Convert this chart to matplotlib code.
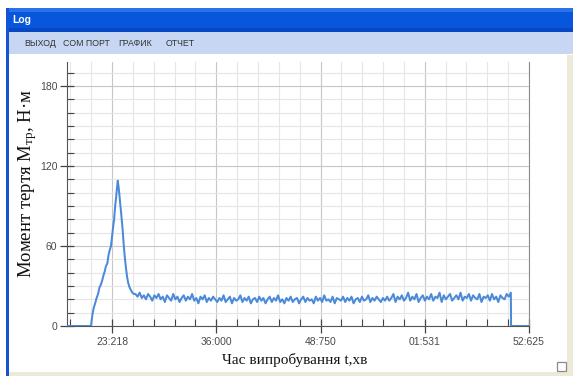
import numpy as np
import matplotlib
matplotlib.use('Agg')
import matplotlib.pyplot as plt
from matplotlib.patches import Rectangle
from matplotlib.ticker import MultipleLocator, FixedLocator

# ---- data ----
x_ticks = [1, 2, 3, 4, 5]
x_tick_labels = ['23:218', '36:000', '48:750', '01:531', '52:625']
y_ticks = [0, 60, 120, 180]

# start-up: idle, ramp to the peak and decay to the steady level
rise_t = [0.568, 0.70, 0.799, 0.806, 0.815, 0.826, 0.838, 0.852, 0.866, 0.880,
          0.893, 0.905, 0.918, 0.930, 0.942, 0.955, 0.966, 0.978, 0.990, 1.000,
          1.010, 1.020, 1.030, 1.040, 1.048, 1.055, 1.062, 1.070, 1.078, 1.086,
          1.094, 1.103, 1.112, 1.122, 1.133, 1.144, 1.156, 1.168, 1.180, 1.195, 1.210]
rise_m = [0, 0, 0, 5, 10, 14, 17, 21, 24, 29,
          31, 34, 38, 41, 45, 47, 53, 57, 60, 67,
          74, 80, 90, 97, 104, 109, 105, 99, 92, 86,
          79, 71, 61, 52, 44, 37, 32, 29, 27, 25, 24]

# steady running level (noisy friction torque)
plateau_m = [24, 22, 25, 21, 23, 20, 24, 22, 19, 23, 21, 24, 20, 22, 18, 23, 21, 19, 24, 20,
             22, 18, 21, 23, 19, 22, 20, 24, 19, 21, 17, 22, 20, 23, 18, 21, 19, 22, 20, 18,
             21, 19, 23, 18, 20, 22, 17, 21, 19, 20, 23, 18, 21, 19, 22, 17, 20, 21, 18, 22,
             19, 21, 17, 20, 22, 18, 21, 19, 23, 18, 20, 17, 21, 19, 22, 18, 20, 21, 17, 20,
             22, 18, 21, 19, 20, 17, 22, 19, 21, 18, 23, 19, 20, 18, 22, 17, 21, 20, 19, 22,
             18, 21, 19, 22, 17, 20, 21, 18, 22, 19, 20, 23, 18, 21, 19, 22, 20, 18, 21, 19,
             22, 19, 21, 24, 18, 22, 20, 23, 19, 21, 25, 19, 22, 20, 24, 18, 21, 23, 19, 22,
             20, 24, 19, 22, 21, 25, 18, 23, 20, 22, 24, 19, 21, 23, 20, 25, 19, 22, 21, 24,
             19, 23, 21, 20, 24, 18, 22, 21, 23, 19, 24, 20, 22, 18, 23, 21, 20, 24, 22, 25]
plateau_start, plateau_end = 1.225, 4.826

# stop: drop to zero and idle till the end
stop_t = [4.828, 5.0]
stop_m = [0, 0]

t = np.concatenate([rise_t, np.linspace(plateau_start, plateau_end, len(plateau_m)), stop_t])
m = np.concatenate([rise_m, plateau_m, stop_m])

# ---- figure / window chrome ----
W, H = 573, 376
fig = plt.figure(figsize=(W / 100, H / 100), dpi=100)
fig.patch.set_facecolor('white')


def px_rect(x0, y0, x1, y1, **kw):
    # rectangle given in screen pixels (origin top-left)
    r = Rectangle((x0 / W, 1 - y1 / H), (x1 - x0) / W, (y1 - y0) / H,
                  transform=fig.transFigure, linewidth=0, **kw)
    fig.add_artist(r)
    return r


px_rect(8, 8, W, 32, facecolor='#0856dc', zorder=0)        # title bar
px_rect(8, 8, W, 12, facecolor='#2a72ea', zorder=0)
px_rect(8, 28, W, 32, facecolor='#0848c4', zorder=0)
px_rect(8, 32, W, 54, facecolor='#c7d7f3', zorder=0)       # menu bar
px_rect(6, 8, 9, H, facecolor='#1454d4', zorder=0)         # left border
px_rect(567, 55, W, H, facecolor='#ece9d8', zorder=0)      # right border
px_rect(9, 372, W, H, facecolor='#ece9d8', zorder=0)       # bottom border
px_rect(557, 362, 566, 371, facecolor='white', edgecolor='#8a8a8a',
        zorder=1).set_linewidth(0.9)

fig.text(12 / W, 1 - 20 / H, 'Log', color='white', fontsize=7.5,
         fontweight='bold', family='Liberation Sans', va='center')
for label, xpos in [('ВЫХОД', 24), ('COM ПОРТ', 63), ('ГРАФИК', 118), ('ОТЧЕТ', 166)]:
    fig.text(xpos / W, 1 - 44 / H, label, color='#333333', fontsize=6.3,
             family='Liberation Sans', va='center')

# ---- plot ----
ax = fig.add_axes([67 / W, 1 - 326 / H, (529 - 67) / W, (326 - 62) / H])
ax.plot(t, m, color='#4b8ad9', linewidth=1.45, zorder=3)

ax.set_xlim(0.568, 5.0)
ax.set_ylim(0, 198)
ax.xaxis.set_major_locator(FixedLocator(x_ticks))
ax.set_xticklabels(x_tick_labels)
ax.xaxis.set_minor_locator(MultipleLocator(0.2))
ax.yaxis.set_major_locator(FixedLocator(y_ticks))
ax.yaxis.set_minor_locator(MultipleLocator(10))

ax.grid(which='minor', color='#e6e6e6', linewidth=0.8)
ax.grid(which='major', color='#c6c6c6', linewidth=0.8)
ax.set_axisbelow(True)

ax.tick_params(which='major', direction='inout', length=10, width=0.9,
               color='#444444', labelsize=7.5, labelcolor='#4a4a4a')
ax.tick_params(which='minor', direction='in', length=5, width=0.8, color='#444444')
ax.tick_params(axis='y', pad=2)
ax.tick_params(axis='x', pad=3)
for lab in ax.get_xticklabels() + ax.get_yticklabels():
    lab.set_family('Liberation Sans')

ax.spines['top'].set_visible(False)
ax.spines['right'].set_color('#8c8c8c')
ax.spines['left'].set_color('#555555')
ax.spines['bottom'].set_color('#555555')

plt.rcParams['mathtext.fontset'] = 'custom'
plt.rcParams['mathtext.rm'] = 'Liberation Serif'
plt.rcParams['mathtext.it'] = 'Liberation Serif'

fig.text(28 / W, 1 - 184 / H, r'Момент тертя $\mathregular{M_{тр}}$, Н·м',
         rotation=90, ha='center', va='center', fontsize=13.5,
         family='Liberation Serif', color='#111111')
fig.text(295 / W, 1 - 360 / H, 'Час випробування t,хв', ha='center', va='center',
         fontsize=11, family='Liberation Serif', color='#111111')

fig.savefig('out.png', dpi=100)
